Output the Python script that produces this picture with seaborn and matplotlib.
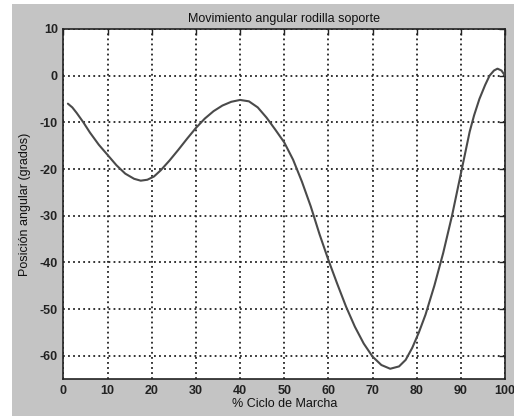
import matplotlib
matplotlib.use("Agg")
import matplotlib.pyplot as plt
import seaborn as sns
import pandas as pd
from matplotlib.patches import Rectangle

# Data
ciclo = [1, 2, 3, 4.5, 6, 8, 10, 12, 14, 16, 17.5, 19, 20.5, 22, 24, 26, 28, 30,
         32, 34, 36, 38, 40, 42, 44, 46, 48, 50, 52, 54, 56, 58, 60, 62, 64, 66,
         68, 70, 72, 74, 76, 77.5, 79, 80.5, 82, 84, 86, 88, 90, 92, 93, 94.2,
         95.5, 96.5, 97.5, 98.3, 99.2, 100]
angulo = [-6.0, -6.8, -8.0, -10, -12.2, -14.8, -17, -19.2, -21, -22.1, -22.5,
          -22.3, -21.6, -20.3, -18.2, -15.9, -13.5, -11.2, -9.2, -7.6, -6.4,
          -5.6, -5.2, -5.5, -6.8, -9.0, -11.6, -14.3, -18, -22.7, -28, -34,
          -39.5, -44.6, -49.5, -53.8, -57.4, -60.2, -62, -62.8, -62.3, -60.9,
          -58.3, -55, -51.2, -45, -38, -30, -21, -12, -8.5, -5, -2, 0, 1.1, 1.5,
          1.1, 0]
xticks = [0, 10, 20, 30, 40, 50, 60, 70, 80, 90, 100]
yticks = [10, 0, -10, -20, -30, -40, -50, -60]
titulo = "Movimiento angular rodilla soporte"
xlabel = "% Ciclo de Marcha"
ylabel = "Posición angular (grados)"

sns.set_style("white")
plt.rcParams['font.family'] = ['Liberation Sans', 'DejaVu Sans']

fig = plt.figure(figsize=(5.14, 4.16), dpi=100)
fig.patch.set_facecolor("white")
fig.patches.append(Rectangle((12 / 514, 0), 1 - 12 / 514, 1 - 4 / 416,
                             transform=fig.transFigure, facecolor="#c4c4c4",
                             edgecolor="none", zorder=-10))
ax = fig.add_axes([0.1235, 0.0889, 0.9825 - 0.1235, 0.9303 - 0.0889])
ax.set_facecolor("white")

df = pd.DataFrame({"x": ciclo, "y": angulo})
sns.lineplot(data=df, x="x", y="y", ax=ax, color="#4a4a4a", linewidth=1.5,
             sort=True, zorder=3)

ax.set_xlim(0, 100)
ax.set_ylim(-65, 10)
ax.set_xticks(xticks)
ax.set_yticks(yticks)
ax.set_xticklabels([str(t) for t in xticks], fontsize=9, fontweight="bold", color="#222222")
ax.set_yticklabels([str(t) for t in yticks], fontsize=9, fontweight="bold", color="#222222")
ax.grid(True, color="#222222", linestyle=(0, (1.0, 1.8)), linewidth=1.3, zorder=1)
ax.tick_params(direction="in", length=4, width=1, top=True, right=True,
               labeltop=False, labelright=False, pad=4, colors="#222222")
for s in ax.spines.values():
    s.set_visible(True)
    s.set_color("#222222")
    s.set_linewidth(1.2)

ax.set_title(titulo, fontsize=9, color="#111111", pad=5)
ax.set_xlabel(xlabel, fontsize=9, color="#111111", labelpad=1)
ax.set_ylabel(ylabel, fontsize=9, color="#111111", labelpad=6)

fig.savefig("out.png", dpi=100, facecolor=fig.get_facecolor())
